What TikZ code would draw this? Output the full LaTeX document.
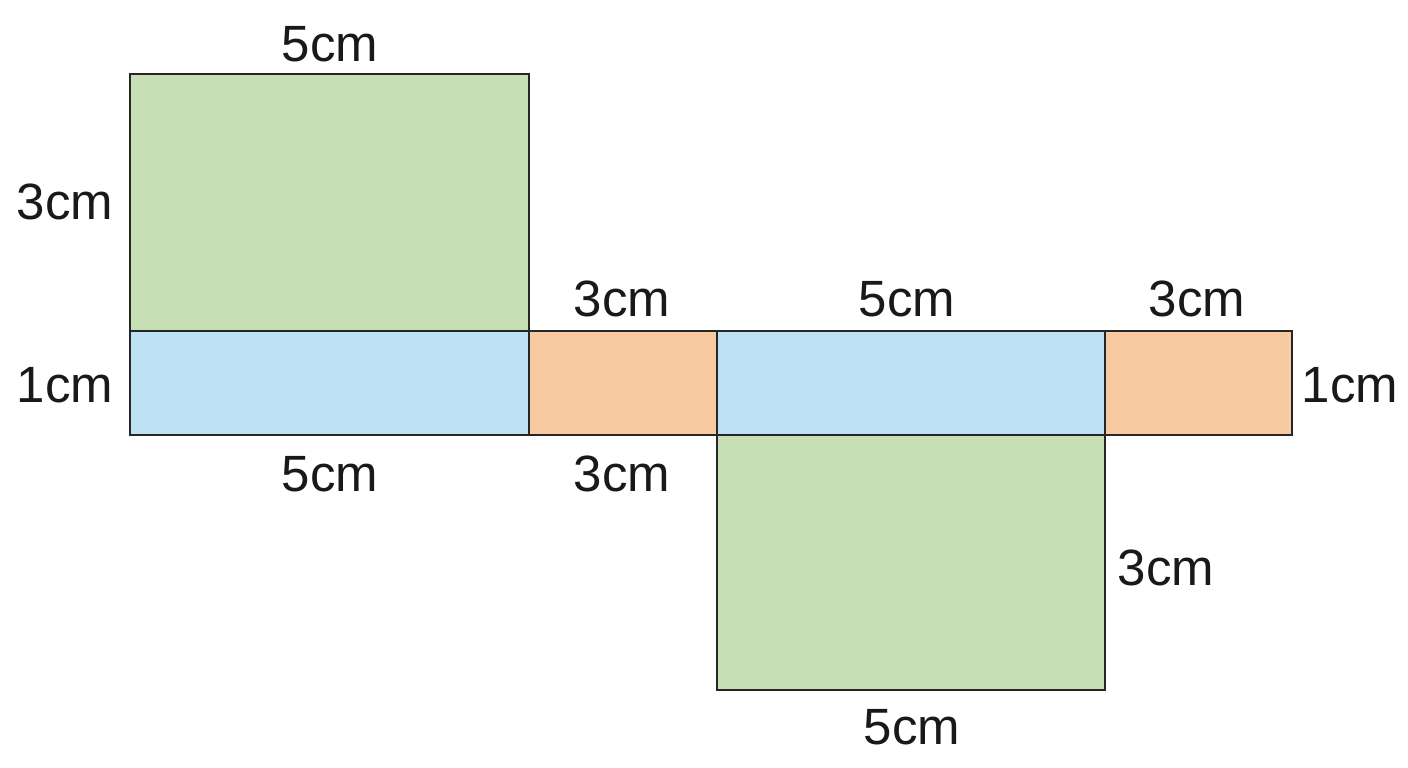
\documentclass[tikz,border=0pt]{standalone}
\usepackage{fontspec}
\setmainfont{Liberation Sans}
\definecolor{facegreen}{HTML}{C8DEB4}
\definecolor{faceblue}{HTML}{BEE1F3}
\definecolor{faceorange}{HTML}{F8CAA1}
\tikzset{
  face/.style={draw=black!85, line width=2pt},
  dim/.style={font=\fontsize{51}{55}\selectfont, inner sep=0pt, text=black!90}
}
\begin{document}
\begin{tikzpicture}[x=1pt,y=1pt]
\useasboundingbox (0,0) rectangle (1408,768);
% faces (y = 768 - image y)
\filldraw[face, fill=facegreen]  (130,694) rectangle (529,437);
\filldraw[face, fill=faceblue]   (130,437) rectangle (529,333);
\filldraw[face, fill=faceorange] (529,437) rectangle (717,333);
\filldraw[face, fill=faceblue]   (717,437) rectangle (1105,333);
\filldraw[face, fill=faceorange] (1105,437) rectangle (1292,333);
\filldraw[face, fill=facegreen]  (717,333) rectangle (1105,78);
% labels
\node[dim] (l1) at (330,724) {5cm};
\node[dim] (l2) at (65,566) {3cm};
\node[dim] (l3) at (65,383) {1cm};
\node[dim] (l4) at (330,294) {5cm};
\node[dim] (l5) at (622,469) {3cm};
\node[dim] (l6) at (622,294) {3cm};
\node[dim] (l7) at (907,469) {5cm};
\node[dim] (l8) at (1197,469) {3cm};
\node[dim] (l9) at (1350,383) {1cm};
\node[dim] (l10) at (1166,200) {3cm};
\node[dim] (l11) at (912,41) {5cm};
\end{tikzpicture}
\end{document}
